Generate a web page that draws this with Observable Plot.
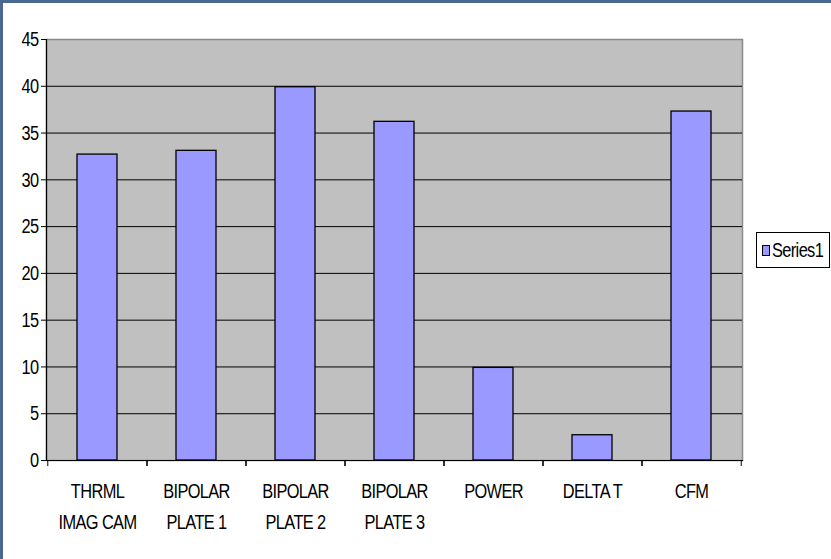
<!DOCTYPE html>
<html><head><meta charset="utf-8">
<script src="https://cdn.jsdelivr.net/npm/d3@7"></script>
<script src="https://cdn.jsdelivr.net/npm/@observablehq/plot@0.6"></script>
<style>
body{margin:0;background:#fff;}
#frame{position:relative;width:828px;height:556px;border-top:3px solid #4a6890;border-left:3px solid #4a6890;background:#fff;overflow:hidden;}
#frame svg{display:block;}
#legend{position:absolute;left:753px;top:229px;width:72px;height:34px;border:1px solid #000;background:#fff;font:21px "Liberation Sans",Arial,sans-serif;letter-spacing:-0.8px;display:flex;align-items:center;color:#000;white-space:nowrap;}
#legend .sw{display:inline-block;flex:none;width:6px;height:9px;border:1px solid #000;margin:0 2px 0 5px;}
#legend .tx{display:inline-block;transform:scaleX(0.78);transform-origin:0 50%;}
</style>
</head><body>
<div id="frame"><div id="legend"></div></div>
<script>
const categories = ["THRML\nIMAG CAM","BIPOLAR\nPLATE 1","BIPOLAR\nPLATE 2","BIPOLAR\nPLATE 3","POWER","DELTA T","CFM"];
const values = [32.7, 33.1, 39.9, 36.2, 9.9, 2.7, 37.3];
const yTicks = [0,5,10,15,20,25,30,35,40,45];
const gridTicks = [5,10,15,20,25,30,35,40];
const seriesName = "Series1";
const barColor = "#9999ff";

const data = categories.map((c,i)=>({category:c, value:values[i]}));
const W = 828, H = 556, mL = 43, mR = 89, mT = 36, mB = 99;
const step = (W - mL - mR) / categories.length;

const chart = Plot.plot({
  width: W, height: H,
  marginLeft: mL, marginRight: mR, marginTop: mT, marginBottom: mB,
  style: {fontFamily:"Liberation Sans, Arial, sans-serif", fontSize:"21px", letterSpacing:"-0.8px", color:"#000", background:"transparent", overflow:"visible"},
  x: {domain: categories, paddingInner: 0.6, paddingOuter: 0.3, axis: null},
  y: {domain: [0,45], axis: null},
  marks: [
    Plot.frame({fill:"#c0c0c0", stroke:"#8a8a8a", strokeWidth:1.5}),
    Plot.ruleY(gridTicks, {stroke:"#000", strokeWidth:1}),
    Plot.barY(data, {x:"category", y:"value", fill:barColor, stroke:"#000", strokeWidth:1.3}),
    Plot.frame({anchor:"left", stroke:"#000", strokeWidth:1.2}),
    Plot.frame({anchor:"bottom", stroke:"#000", strokeWidth:1.2}),
    Plot.axisY(yTicks, {anchor:"left", tickSize:5, tickPadding:3, fontSize:21, label:null, stroke:"#000"}),
    Plot.axisX({anchor:"bottom", tickSize:0, tickPadding:16, fontSize:21, lineHeight:1.45, label:null}),
    Plot.axisX({anchor:"bottom", tickSize:6, tickFormat:()=>"", label:null, dx:-step/2, stroke:"#000"}),
    Plot.axisX({anchor:"bottom", tickSize:6, tickFormat:()=>"", label:null, dx:step/2, stroke:"#000"})
  ]
});
// condense glyphs horizontally, like the narrow reference font
d3.select(chart).selectAll("g[aria-label$='tick label'] text").each(function(){
  const t = this.getAttribute("transform");
  if (t) this.setAttribute("transform", t + " scale(0.78,1)");
  else {
    const x = +this.getAttribute("x") || 0;
    this.setAttribute("transform", `translate(${x},0) scale(0.78,1) translate(${-x},0)`);
  }
});
document.getElementById("frame").prepend(chart);
const lg = document.getElementById("legend");
const sw = document.createElement("span"); sw.className="sw"; sw.style.background = barColor;
const tx = document.createElement("span"); tx.className="tx"; tx.textContent = seriesName;
lg.appendChild(sw);
lg.appendChild(tx);
</script>
</body></html>
